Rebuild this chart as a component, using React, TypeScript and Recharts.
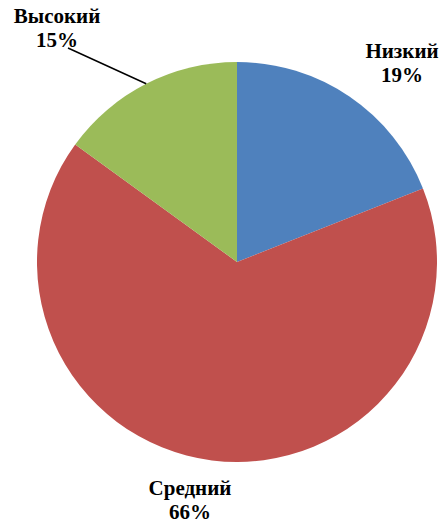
import React from 'react';
import { PieChart, Pie, Cell } from 'recharts';

const categories = ['Низкий', 'Средний', 'Высокий'];
const values = [19, 66, 15];
const percentLabels = ['19%', '66%', '15%'];
const colors = ['#4F81BD', '#C0504D', '#9BBB59'];

const data = categories.map((name, i) => ({ name, value: values[i] }));

// label placement relative to pie centre (layout only)
const labelOffsets = [
  { dx: 165, dy: -204 },
  { dx: -47, dy: 233 },
  { dx: -180, dy: -239 },
];
const leaderEnds: Record<number, { dx: number; dy: number }> = {
  2: { dx: -169, dy: -214 },
};

const RAD = Math.PI / 180;

const renderLabel = (props: any) => {
  const { cx, cy, midAngle, outerRadius, index } = props;
  const off = labelOffsets[index];
  const x = cx + off.dx;
  const y = cy + off.dy;
  const lead = leaderEnds[index];
  let line = null;
  if (lead) {
    const ex = cx + outerRadius * Math.cos(-midAngle * RAD);
    const ey = cy + outerRadius * Math.sin(-midAngle * RAD);
    line = (
      <line x1={ex} y1={ey} x2={cx + lead.dx} y2={cy + lead.dy} stroke="#000" strokeWidth={1.5} />
    );
  }
  const ts = { fontFamily: 'Liberation Serif', fontWeight: 700, fontSize: 21, fill: '#000' };
  return (
    <g key={`lbl-${index}`}>
      {line}
      <text x={x} y={y} textAnchor="middle" style={ts}>
        {categories[index]}
      </text>
      <text x={x} y={y + 24} textAnchor="middle" style={ts}>
        {percentLabels[index]}
      </text>
    </g>
  );
};

export default function App() {
  return (
    <div style={{ position: 'absolute', left: 0, top: 0, width: 443, height: 522, background: '#fff' }}>
      <PieChart width={443} height={522} margin={{ top: 0, right: 0, bottom: 0, left: 0 }}>
        <Pie
          data={data}
          dataKey="value"
          nameKey="name"
          cx={237}
          cy={262}
          outerRadius={200}
          startAngle={90}
          endAngle={-270}
          stroke="none"
          isAnimationActive={false}
          label={renderLabel}
          labelLine={false}
        >
          {data.map((d, i) => (
            <Cell key={d.name} fill={colors[i]} />
          ))}
        </Pie>
      </PieChart>
    </div>
  );
}
